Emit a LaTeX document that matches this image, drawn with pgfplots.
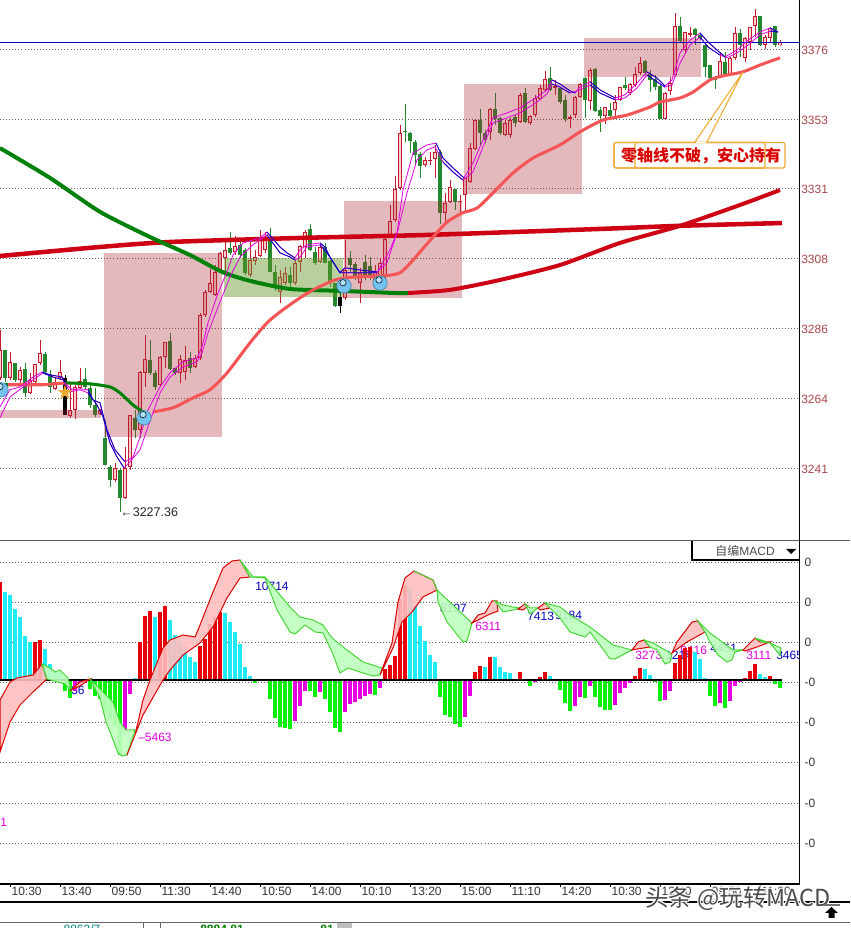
\documentclass[border=0pt]{standalone}
\usepackage{fontspec}
\setmainfont{Liberation Sans}
\newfontfamily\cjk{Noto Sans CJK SC}
\usepackage{pgfplots}
\usepackage{pgfplotstable}
\pgfplotsset{compat=1.18}

\definecolor{cred}{RGB}{200,25,45}
\definecolor{cgreen}{RGB}{35,135,45}
\definecolor{maSalmon}{RGB}{245,85,85}
\definecolor{maRed}{RGB}{205,0,20}
\definecolor{maGreen}{RGB}{0,130,10}
\definecolor{maBlue}{RGB}{0,0,190}
\definecolor{maMag}{RGB}{225,0,225}
\definecolor{hRed}{RGB}{230,0,10}
\definecolor{hCyan}{RGB}{30,235,245}
\definecolor{hGreen}{RGB}{10,240,10}
\definecolor{hMag}{RGB}{230,0,225}
\definecolor{pricetxt}{RGB}{170,70,75}
\definecolor{orangeb}{RGB}{240,170,50}
\definecolor{bubble}{RGB}{115,195,240}
\definecolor{bubblehi}{RGB}{175,228,252}
\definecolor{bubbleedge}{RGB}{70,130,170}
\definecolor{ribbonup}{RGB}{255,190,190}
\definecolor{ribbondn}{RGB}{190,255,190}
\definecolor{edgedn}{RGB}{70,215,55}

% candles: n low bot top high
\pgfplotstableread{
n low bot top high
0 3269.8 3270.4 3279.4 3285.8
2 3269.8 3270.4 3275.6 3278.8
4 3267.5 3269.8 3273.0 3273.9
6 3265.3 3265.6 3269.8 3272.0
7 3268.8 3269.1 3274.9 3274.9
8 3274.6 3275.2 3278.4 3282.6
11 3266.6 3266.9 3269.1 3270.7
12 3269.8 3270.4 3272.3 3276.2
14 3257.6 3258.2 3260.1 3269.1
15 3257.2 3260.1 3267.5 3268.2
16 3266.9 3267.2 3269.4 3273.6
20 3258.5 3258.8 3260.1 3260.5
23 3237.0 3237.6 3241.5 3243.1
25 3231.5 3231.8 3241.5 3248.2
26 3240.8 3241.8 3258.5 3258.5
28 3251.1 3253.7 3272.3 3272.7
29 3267.5 3272.0 3276.5 3284.2
32 3267.5 3268.2 3277.2 3277.5
33 3273.6 3277.2 3282.0 3282.0
36 3268.8 3272.0 3276.5 3277.8
37 3269.8 3272.3 3276.2 3280.7
39 3273.6 3273.9 3276.8 3277.8
40 3276.2 3276.8 3290.7 3291.3
41 3290.0 3290.7 3298.1 3298.7
42 3297.7 3298.1 3300.9 3305.4
43 3296.8 3297.1 3304.5 3306.7
44 3304.5 3305.1 3310.6 3310.9
45 3304.5 3309.0 3311.6 3314.8
47 3309.9 3310.9 3312.8 3316.0
50 3302.9 3303.5 3308.3 3314.1
51 3306.7 3308.0 3309.3 3311.6
52 3309.3 3309.6 3315.4 3318.0
53 3310.6 3311.6 3314.8 3317.3
56 3294.5 3298.1 3302.9 3305.1
57 3300.3 3300.9 3304.2 3306.1
59 3300.3 3300.9 3307.4 3308.3
60 3304.5 3307.7 3312.8 3313.2
61 3309.0 3312.5 3317.3 3318.0
64 3307.4 3307.7 3312.5 3313.8
69 3295.5 3296.1 3305.1 3314.8
72 3294.5 3300.9 3304.2 3305.8
75 3301.3 3301.9 3304.5 3306.7
76 3301.3 3301.9 3307.4 3309.0
77 3301.9 3302.9 3315.1 3315.4
78 3315.4 3316.4 3320.9 3326.0
79 3320.5 3321.2 3331.2 3335.3
80 3330.8 3331.5 3349.2 3351.7
85 3338.2 3338.9 3340.5 3341.4
86 3338.9 3340.2 3340.5 3343.0
87 3334.7 3340.8 3343.0 3345.3
89 3320.2 3323.4 3326.7 3329.9
90 3326.7 3327.0 3331.8 3334.0
92 3323.8 3327.0 3327.3 3329.2
93 3323.8 3329.2 3334.7 3334.7
94 3333.1 3333.4 3344.3 3345.9
95 3343.7 3344.0 3353.3 3353.6
98 3346.9 3349.5 3356.9 3357.2
101 3348.2 3348.5 3352.4 3353.3
102 3347.5 3348.5 3353.3 3354.0
104 3352.4 3352.7 3361.4 3362.0
106 3351.7 3352.4 3354.6 3354.9
107 3354.3 3354.9 3360.4 3361.4
108 3359.8 3360.1 3363.6 3364.6
109 3362.3 3363.0 3366.5 3369.1
111 3361.4 3363.6 3364.3 3366.2
114 3350.8 3353.7 3354.3 3354.9
115 3354.0 3354.9 3360.7 3361.0
116 3360.4 3360.7 3364.9 3365.2
118 3356.5 3359.4 3369.4 3370.0
121 3352.0 3354.6 3357.5 3357.5
123 3354.3 3356.5 3359.1 3361.4
124 3359.4 3359.8 3363.9 3363.9
126 3361.4 3362.0 3364.9 3365.2
127 3363.9 3364.6 3368.1 3370.4
128 3367.8 3368.4 3371.6 3373.6
133 3353.6 3353.6 3362.0 3362.3
134 3361.4 3362.6 3365.2 3367.2
135 3367.2 3367.8 3383.5 3387.7
137 3374.9 3375.8 3381.6 3381.6
138 3380.0 3380.7 3381.3 3383.2
144 3367.2 3367.5 3372.3 3375.2
146 3367.8 3368.1 3373.3 3373.6
147 3372.6 3373.3 3381.3 3383.2
149 3372.0 3373.3 3379.7 3380.0
150 3375.8 3378.4 3383.2 3383.2
151 3380.0 3383.5 3386.8 3389.0
153 3376.2 3377.4 3380.0 3380.7
154 3378.1 3379.7 3382.9 3383.2
156 3377.1 3377.4 3378.4 3379.0
}\redcandles

\pgfplotstableread{
n low bot top high
1 3269.1 3270.4 3279.4 3279.4
3 3269.1 3269.8 3275.2 3275.2
5 3264.3 3265.6 3273.3 3275.2
9 3271.4 3272.3 3278.1 3278.8
10 3265.6 3267.5 3271.7 3273.0
17 3266.6 3267.5 3270.1 3273.6
18 3260.8 3261.7 3267.2 3268.8
19 3257.9 3258.5 3261.7 3267.2
21 3242.4 3242.4 3251.1 3256.9
22 3235.4 3237.6 3241.8 3242.4
24 3227.4 3231.8 3240.8 3241.5
27 3251.1 3253.7 3257.6 3260.1
30 3271.4 3272.0 3276.2 3282.6
31 3266.6 3267.5 3272.0 3273.0
34 3273.0 3273.3 3282.3 3284.9
35 3271.4 3272.0 3273.6 3273.6
38 3272.0 3273.6 3276.8 3278.8
46 3309.9 3310.6 3312.2 3317.3
48 3309.0 3309.9 3313.2 3314.8
49 3303.5 3304.2 3311.6 3312.2
54 3304.5 3304.5 3314.8 3318.6
55 3298.4 3299.3 3304.5 3306.7
58 3299.7 3300.9 3303.5 3306.1
62 3311.2 3311.6 3318.3 3319.9
63 3306.7 3307.4 3310.9 3312.5
65 3307.4 3307.4 3312.5 3313.8
66 3299.7 3300.9 3308.0 3308.3
67 3293.2 3293.6 3300.9 3300.9
70 3304.5 3306.7 3309.0 3311.2
71 3301.9 3302.9 3307.0 3307.7
73 3301.9 3302.9 3307.7 3309.9
74 3301.9 3302.9 3306.4 3309.3
81 3346.3 3349.5 3349.8 3358.5
82 3342.7 3346.6 3349.2 3349.5
83 3338.9 3342.1 3346.3 3346.9
84 3334.7 3338.5 3342.4 3343.0
88 3319.9 3323.4 3343.0 3343.7
91 3324.4 3327.0 3331.2 3331.2
96 3345.3 3349.2 3353.3 3356.9
97 3345.9 3346.9 3349.2 3350.1
99 3351.7 3353.6 3356.9 3362.0
100 3348.5 3349.2 3354.0 3354.3
103 3351.1 3352.4 3354.3 3354.9
105 3352.4 3352.7 3362.0 3363.6
110 3362.7 3363.0 3366.8 3370.4
112 3358.5 3359.1 3363.6 3363.9
113 3352.7 3353.6 3359.8 3361.4
117 3354.0 3359.8 3366.8 3367.2
119 3355.9 3356.2 3369.7 3370.0
120 3349.5 3354.6 3356.5 3357.5
122 3354.0 3354.6 3356.5 3358.8
125 3363.0 3363.6 3364.6 3367.2
129 3367.8 3368.4 3372.3 3372.6
130 3362.3 3366.2 3368.1 3369.4
131 3363.0 3363.9 3366.5 3367.8
132 3353.6 3353.6 3364.3 3364.6
136 3378.4 3378.7 3383.5 3386.4
139 3377.4 3380.7 3382.6 3382.9
140 3379.0 3379.7 3380.7 3381.3
141 3367.2 3370.4 3377.4 3377.4
142 3366.2 3366.8 3371.0 3371.0
143 3363.3 3366.5 3366.8 3367.5
145 3367.5 3367.8 3372.0 3375.2
148 3373.6 3377.4 3381.3 3382.6
152 3377.1 3377.4 3386.8 3386.8
155 3376.8 3377.4 3383.5 3383.5
}\greencandles

\pgfplotstableread{
n low bot top high
13 3258.5 3258.5 3270.4 3271.4
68 3291.3 3293.6 3296.4 3300.9
}\blackcandles

% the two thin averages
\pgfplotstableread{
n p
0 3261.1
2 3266.6
4 3267.5
6.6 3270.7
8.4 3272.3
10 3271.4
12.4 3270.7
13 3268.8
14.4 3266.6
16 3266.9
17.6 3266.6
18.6 3263.3
20 3262.4
21.4 3253.7
23 3247.3
25 3243.4
26.6 3245.0
28 3251.4
29.6 3260.1
32 3267.5
34 3272.0
36.6 3275.6
39.4 3276.8
40.4 3280.4
41.6 3288.1
43.6 3297.7
45.4 3304.5
46.6 3309.9
48.6 3313.8
52 3315.4
53.4 3317.3
56 3312.5
57.4 3310.6
59 3309.0
60 3311.6
61.4 3313.2
64 3313.8
65 3312.5
66 3309.3
68 3304.2
69 3305.8
72 3305.1
75.4 3304.5
77.4 3307.4
79.4 3317.0
80.6 3330.8
82.6 3342.7
85.4 3345.3
87.2 3345.9
88.6 3341.1
90.6 3337.9
92.8 3334.7
94.6 3339.5
96.6 3346.9
98.6 3354.0
101.4 3355.6
104 3357.2
107.4 3360.7
109.4 3363.0
110.4 3366.2
112 3364.9
114 3362.7
115 3362.0
116 3363.9
118 3365.6
120 3363.0
123 3360.4
125 3361.4
127.4 3365.2
129.4 3368.8
131.4 3366.8
133 3364.3
134.4 3366.2
136 3374.9
138 3379.0
140 3381.3
141.6 3378.4
143.4 3375.8
145 3373.6
147.4 3375.8
149.6 3379.0
152 3381.6
154 3382.9
155.6 3381.6
}\mafast

\pgfplotstableread{
n p
0 3257.6
2 3264.3
4.4 3267.2
6.6 3269.8
8.6 3272.0
10.6 3270.7
12.6 3269.8
14 3265.9
16 3266.6
17.6 3265.6
19.4 3261.7
20.6 3257.9
22 3249.5
23.4 3245.0
24.8 3241.5
26 3243.4
28 3247.3
29.6 3254.7
32 3265.6
34 3270.7
36.6 3273.9
39.4 3275.6
40.4 3278.4
41.6 3284.9
44 3294.8
46 3302.9
48 3309.3
50.6 3313.2
53.4 3316.4
56 3310.6
58 3309.3
59 3308.3
60 3309.3
61.4 3312.5
64 3313.2
65.4 3310.6
68 3304.2
75.4 3304.2
78 3311.6
79.6 3318.0
81.4 3329.9
83.4 3340.5
85.4 3343.7
87 3344.7
88.6 3339.8
90.6 3336.6
92.6 3334.0
94.6 3336.6
96.6 3344.7
98.6 3352.4
101.4 3354.0
104 3355.6
107.4 3359.1
109.4 3361.7
110.4 3364.9
112 3363.9
114 3362.0
116 3363.0
118 3364.6
120 3362.0
123 3359.8
125 3360.4
127.4 3363.6
129.4 3367.8
131.4 3365.6
133 3363.9
134.4 3364.6
136 3371.6
138 3377.4
140 3380.0
141.6 3376.8
144 3374.2
145.4 3373.3
147.4 3374.9
149.6 3377.4
152 3380.7
154 3381.9
155.6 3381.6
}\maslow

\pgfplotstableread{
n p
30.6 3259.5
34.6 3260.8
38.6 3264.0
42 3266.6
45.4 3272.0
50 3281.7
53.4 3288.1
56 3291.6
59.4 3295.5
62.6 3298.7
67 3301.9
71 3302.9
76.6 3303.2
80 3304.2
82.6 3308.3
86.6 3315.7
89.4 3320.5
92.4 3323.4
95.4 3325.0
98.6 3329.9
102.6 3336.3
106.6 3341.1
112 3345.3
116 3349.5
120.6 3353.3
125.4 3354.9
130 3357.5
132 3359.1
136 3360.4
138.6 3362.3
142 3366.2
144.6 3367.5
148.6 3368.8
152 3371.0
156 3373.3
}\masalmon

\newcommand{\wicks}[2]{%
  \addplot[draw=none,mark=none,forget plot,error bars/.cd,y dir=both,y explicit,
    error mark=none,error bar style={#2,line width=0.75pt}]
  table[x=n,y expr=(\thisrow{bot}+\thisrow{top})/2,
    y error plus expr=\thisrow{high}-(\thisrow{bot}+\thisrow{top})/2,
    y error minus expr=(\thisrow{bot}+\thisrow{top})/2-\thisrow{low}] {#1};}
\newcommand{\bodies}[3]{%
  \addplot[draw=none,mark=none,forget plot,error bars/.cd,y dir=both,y explicit,
    error mark=none,error bar style={#2,line width=#3}]
  table[x=n,y expr=(\thisrow{bot}+\thisrow{top})/2,
    y error plus expr={max((\thisrow{top}-\thisrow{bot})/2,0.2)},
    y error minus expr={max((\thisrow{top}-\thisrow{bot})/2,0.2)}] {#1};}
\newcommand{\hollow}[1]{%
  \addplot[draw=none,mark=none,forget plot,error bars/.cd,y dir=both,y explicit,
    error mark=none,error bar style={white,opacity=0.8,line width=1.5pt}]
  table[x=n,y expr=(\thisrow{bot}+\thisrow{top})/2,
    y error plus expr={max((\thisrow{top}-\thisrow{bot})/2-0.35,0)},
    y error minus expr={max((\thisrow{top}-\thisrow{bot})/2-0.35,0)}] {#1};}

\pgfplotsset{
  chart/.style={scale only axis,width=599.25pt,xmin=0,xmax=159.8,
    axis line style={draw=none},ymajorgrids,yticklabel pos=right,
    grid style={gray!75!black,line width=0.5pt,dash pattern=on 0.6pt off 1.7pt},
    ytick style={draw=none},scaled y ticks=false,
    every axis plot/.append style={forget plot}},
  pbox/.style={draw=none,fill={rgb,255:red,170;green,40;blue,50},fill opacity=0.32},
  gbox/.style={draw=none,fill={rgb,255:red,100;green,150;blue,40},fill opacity=0.45},
  up/.style={draw=red!85!black,line width=0.75pt,fill=ribbonup,fill opacity=0.9},
  dn/.style={draw=edgedn,line width=0.75pt,fill=ribbondn,fill opacity=0.9},
  bar/.style={ycomb,mark=none,line width=2.6pt,#1},
}
\newcommand{\lab}{\fontsize{9}{10}\selectfont}

\begin{document}
\begin{tikzpicture}
\path[use as bounding box,fill=white] (0pt,0pt) rectangle (637.5pt,696pt);

% price panel
\begin{axis}[chart,at={(0pt,291pt)},anchor=south west,height=405pt,
    ymin=3218.3,ymax=3391.9,xtick=\empty,
    ytick={3376,3353.6,3331.2,3308.7,3286.2,3263.7,3241.2},
    yticklabels={3376,3353,3331,3308,3286,3264,3241},
    y tick label style={font=\lab,text=pricetxt,anchor=west,inner sep=1.5pt,yshift=-0.6pt}]

  \wicks{\greencandles}{cgreen}
  \wicks{\redcandles}{cred}
  \wicks{\blackcandles}{black}
  \bodies{\greencandles}{cgreen}{3pt}
  \bodies{\redcandles}{cred}{3pt}
  \hollow{\redcandles}
  \bodies{\blackcandles}{black}{3.4pt}

  % shaded boxes lie over the candles
  \addplot[pbox] coordinates {(0,3257.6)(20.2,3257.6)(20.2,3260.1)(0,3260.1)} -- cycle;
  \addplot[pbox] coordinates {(20.8,3251.4)(44.4,3251.4)(44.4,3310.6)(20.8,3310.6)} -- cycle;
  \addplot[gbox] coordinates {(44.8,3296.4)(68.6,3296.4)(68.6,3309.0)(44.8,3309.0)} -- cycle;
  \addplot[pbox] coordinates {(68.8,3296.1)(92.4,3296.1)(92.4,3327.3)(68.8,3327.3)} -- cycle;
  \addplot[pbox] coordinates {(92.8,3329.5)(116.4,3329.5)(116.4,3364.9)(92.8,3364.9)} -- cycle;
  \addplot[pbox] coordinates {(116.8,3367.2)(140.2,3367.2)(140.2,3379.7)(116.8,3379.7)} -- cycle;

  \addplot[maBlue,line width=0.75pt] coordinates {(0,3378.1)(159.8,3378.1)};

  % slow averages
  \addplot[maRed,line width=3.4pt,smooth,tension=0.4] coordinates {(0,3309.6)(20,3312.5)(34,3314.1)(60,3315.4)(86,3316.4)(120,3318.3)(136,3319.3)(156.4,3320.2)};
  \addplot[maRed,line width=3pt,smooth,tension=0.4] coordinates {(81.6,3297.7)(90,3298.7)(100,3301.9)(112,3306.7)(124,3313.8)(136,3319.3)(148,3326.0)(156,3330.8)};
  \addplot[maGreen,line width=3pt,smooth,tension=0.4] coordinates {(0,3344.3)(10,3334.7)(20,3323.8)(30,3315.7)(38,3309.9)(44.4,3304.5)(50,3301.6)(58,3299.0)(68,3298.4)(79,3297.7)(81.6,3297.7)};

  \addplot[maSalmon,line width=2.3pt] coordinates {(1.6,3268.2)(8.6,3268.2)(13,3268.8)};
  \addplot[maGreen,line width=2.3pt] coordinates {(0,3268.2)(1.6,3268.2)};
  \addplot[maGreen,line width=2.3pt,smooth,tension=0.4] coordinates {(13,3268.8)(18,3268.5)(22,3267.5)(24,3265.6)(26.6,3261.7)(28.6,3259.5)};
  \addplot[maSalmon,line width=2.3pt,smooth,tension=0.4] table[x=n,y=p] {\masalmon};

  % thin averages, blue where they fall
  \addplot[maMag,line width=0.6pt] table[x=n,y=p] {\mafast};
  \addplot[maMag,line width=0.6pt] table[x=n,y=p] {\maslow};
  \pgfplotsinvokeforeach{8.4:13,17.6:25,53.4:59,64:75.4,87.2:92.8,110.4:115,118:123,129.4:133,140:145,154:155.6}{
    \addplot[maBlue,line width=0.6pt,restrict x to domain=#1] table[x=n,y=p] {\mafast};
    \addplot[maBlue,line width=0.6pt,restrict x to domain=#1] table[x=n,y=p] {\maslow};
  }

  \addplot[only marks,mark=*,mark size=5.4pt,mark options={fill=bubble,draw=bubbleedge,line width=0.5pt}]
    coordinates {(0.2,3266.6)(28.8,3257.6)(68.8,3300.0)(76,3300.9)};
  \addplot[only marks,mark=*,mark size=2.4pt,mark options={fill=bubblehi,draw=none}]
    coordinates {(0,3267.6)(28.6,3258.6)(68.6,3301.0)(75.8,3301.9)};

  \node[anchor=center,text=orangeb,font=\fontspec{DejaVu Sans}\fontsize{15}{15}\selectfont] at (axis cs:13,3265.8) {★};
  \node[anchor=west,inner sep=0pt,font=\fontsize{9.4}{10}\selectfont,text=black!85] at (axis cs:24,3227.4) {←3227.36};
\end{axis}

% macd panel
\begin{axis}[chart,at={(0pt,33pt)},anchor=south west,height=257.25pt,
    ymin=-20400,ymax=13900,
    xtick={2,12,...,152},xtick pos=bottom,
    xticklabels={10:30,13:40,09:50,11:30,14:40,10:50,14:00,10:10,13:20,15:00,11:10,14:20,10:30,13:40,09:50,11:30},
    x tick label style={font=\lab,text=black!80,anchor=north west,xshift=-0.5pt,yshift=1.5pt,inner sep=1.5pt},
    xtick style={black,line width=0.5pt},tick align=outside,major tick length=2.5pt,
    ytick={11800,7800,3800,-200,-4200,-8200,-12300,-16300},
    yticklabels={0,0,0,-0,-0,-0,-0,-0},
    y tick label style={font=\lab,text=black!80,anchor=west,inner sep=1.5pt}]

  \node[anchor=west,inner sep=0pt,font=\lab,text=maBlue] at (axis cs:51,9400) {10714};
  \node[anchor=east,inner sep=0pt,font=\lab,text=maBlue] at (axis cs:93.4,7200) {8107};
  \node[anchor=west,inner sep=0pt,font=\lab,text=maBlue] at (axis cs:105.4,6400) {7413};
  \node[anchor=west,inner sep=0pt,font=\lab,text=maBlue] at (axis cs:111,6500) {9184};
  \node[anchor=west,inner sep=0pt,font=\lab,text=maBlue] at (axis cs:133,2500) {1214};
  \node[anchor=west,inner sep=0pt,font=\lab,text=maBlue] at (axis cs:142,3200) {4451};
  \node[anchor=west,inner sep=0pt,font=\lab,text=maBlue] at (axis cs:155.2,2500) {3465};
  \node[anchor=west,inner sep=0pt,font=\lab,text=maBlue] at (axis cs:14.2,-1000) {36};
  \node[anchor=west,inner sep=0pt,font=\lab,text=maMag] at (axis cs:95,5400) {6311};
  \node[anchor=west,inner sep=0pt,font=\lab,text=maMag] at (axis cs:127,2500) {3273};
  \node[anchor=west,inner sep=0pt,font=\lab,text=maMag] at (axis cs:136,3000) {9416};
  \node[anchor=west,inner sep=0pt,font=\lab,text=maMag] at (axis cs:149.2,2500) {3111};
  \node[anchor=west,inner sep=0pt,font=\lab,text=maMag] at (axis cs:27.6,-5700) {--5463};
  \node[anchor=west,inner sep=0pt,font=\lab,text=maMag] at (axis cs:0,-14200) {1};

  \addplot[bar=hCyan] coordinates {(1,8800)(2,8500)(3,7100)(4,6300)(5,4400)(6,3800)(9,3100)(10,1600)(11,900)(12,800)(27,200)(31,6300)(34,6000)(35,4500)(36,3900)(37,3400)(38,2300)(39,1800)(45,6700)(46,5800)(47,4800)(48,3600)(49,1300)(50,400)(82,9100)(83,7500)(84,5400)(85,3900)(86,2500)(87,1800)(97,1300)(99,2300)(100,1300)(101,800)(102,700)(103,100)(110,400)(129,1100)(130,500)(139,2800)(140,2100)(141,200)(152,600)(153,300)};
  \addplot[bar=hRed] coordinates {(0,9800)(7,3800)(8,4000)(28,3800)(29,6400)(30,6900)(32,6800)(33,7400)(40,3400)(41,4100)(42,5600)(43,6300)(44,6800)(77,1100)(78,1500)(79,2400)(80,8100)(81,9400)(95,800)(96,1400)(98,2300)(104,800)(108,300)(109,800)(127,400)(128,1200)(135,1700)(136,2500)(137,3200)(138,3300)(149,200)(150,900)(151,1600)(154,400)};
  \addplot[bar=hGreen] coordinates {(13,-1100)(14,-1800)(18,-900)(19,-1600)(20,-1900)(21,-3200)(22,-3900)(23,-4600)(24,-7500)(51,-300)(54,-1900)(55,-3800)(56,-4700)(57,-4800)(58,-4900)(62,-1100)(63,-1700)(65,-1900)(66,-3200)(67,-4800)(68,-5200)(75,-1500)(88,-1700)(89,-3500)(90,-3700)(91,-4400)(92,-4700)(105,-100)(106,-600)(112,-1000)(113,-2300)(114,-3100)(117,-1800)(119,-1700)(120,-2700)(121,-3000)(122,-3000)(131,-200)(132,-2100)(142,-1600)(143,-2600)(145,-2800)(155,-400)(156,-800)};
  \addplot[bar=hMag] coordinates {(15,-1100)(16,-600)(17,-300)(25,-5100)(26,-1400)(52,-100)(59,-4100)(60,-2600)(61,-1100)(64,-1200)(69,-3200)(70,-2400)(71,-2200)(72,-1900)(73,-1600)(74,-1400)(76,-800)(93,-3700)(94,-1600)(107,-200)(115,-2600)(116,-1700)(118,-600)(123,-2500)(124,-1300)(125,-800)(126,-300)(133,-2000)(134,-1100)(144,-2300)(146,-2100)(147,-600)(148,-200)};
  \addplot[black,line width=0.9pt] coordinates {(0,0)(156.4,0)};

  % ribbon between the two macd lines
  \addplot[up] coordinates {(0,-7200)(2,-4200)(4,-2500)(6.6,-1200)(9.4,100)(8.4,1600)(6.6,500)(3.4,200)(2,-200)(0,-2000)} -- cycle;
  \addplot[dn] coordinates {(8.4,1600)(10,1200)(11,800)(12,1000)(13.6,200)(14.2,-1000)(13,-400)(9.4,100)} -- cycle;
  \addplot[up] coordinates {(14.2,-1000)(16,-600)(18,100)(16,-200)} -- cycle;
  \addplot[dn] coordinates {(18,100)(20.6,-1200)(22.6,-2200)(24,-4200)(25.2,-5000)(27,-5000)(25.4,-7500)(24.4,-7600)(23.6,-7300)(22.4,-5700)(21.2,-4200)(20,-1800)} -- cycle;
  \addplot[up] coordinates {(25.4,-7500)(27,-5500)(28.6,-2000)(30,0)(32.6,3200)(34,4000)(36.6,4500)(39,4300)(40,5500)(42.6,8800)(44.6,11200)(46.4,11900)(48,12000)(50,10300)(48,10200)(45.4,8200)(42.6,5300)(40,3700)(36.6,2500)(34,1000)(32.6,0)(28.6,-3500)} -- cycle;
  \addplot[dn] coordinates {(48,12000)(50.6,10300)(53,10300)(58,7300)(60,6300)(62.6,6000)(64.6,5500)(66.4,4200)(69.4,3000)(72.6,1800)(76.4,1200)(76,500)(74.6,400)(72,800)(69.6,1200)(68,700)(66.4,2800)(64.6,4700)(63,4800)(61,5500)(59,4600)(58,4800)(55.4,7000)(53,10200)(50,10300)} -- cycle;
  \addplot[up] coordinates {(76.6,1300)(78.4,3700)(79.6,7800)(81,10200)(82.8,10900)(86.6,10000)(87.4,9000)(84.6,8300)(82.4,6800)(80.4,5800)(78.6,3200)(76,500)} -- cycle;
  \addplot[edgedn,line width=0.75pt] coordinates {(82.8,10900)(86.6,10000)(87.4,9000)};
  \addplot[dn] coordinates {(87.4,9000)(94.4,5700)(93.4,3900)(92.6,3800)(89.4,5800)(87.6,7800)} -- cycle;
  \addplot[up] coordinates {(94.4,5700)(95.6,6500)(97,6700)(98.4,7900)(99.4,7900)(99.6,6900)(98,6600)(95.6,6000)} -- cycle;
  \addplot[dn] coordinates {(99,7900)(100.6,7500)(102.6,7300)(104,7200)(103.6,7100)(100.6,6800)(99.6,7500)} -- cycle;
  \addplot[up] coordinates {(103.6,7100)(105,7600)(105.6,7400)(104.6,7000)} -- cycle;
  \addplot[dn] coordinates {(105,7600)(106,7200)(107.6,7200)(106,6600)} -- cycle;
  \addplot[up] coordinates {(107.6,7200)(109,7700)(110,7200)(108,7000)} -- cycle;
  \addplot[dn] coordinates {(109,7700)(112,7300)(114,6500)(118,5300)(122.6,3500)(126.4,3000)(123,2100)(122,2100)(120,3500)(118,4800)(117,4300)(114,4800)(112,6200)(110,7200)} -- cycle;
  \addplot[up] coordinates {(126.4,3000)(127.6,3800)(128.8,4000)(130,3300)(127.4,3100)} -- cycle;
  \addplot[dn] coordinates {(128.8,4000)(130.6,3700)(134.4,2600)(134,1800)(133,1600)(131.4,3000)(130,3300)} -- cycle;
  \addplot[up] coordinates {(134.4,2700)(135.4,3800)(138.4,5800)(139.6,5900)(141,4800)(137.4,3800)(134.6,2800)} -- cycle;
  \addplot[dn] coordinates {(139.6,5900)(142,4700)(146.6,3000)(148.6,3000)(147,2800)(146.4,2000)(145.4,1800)(143.6,2500)(142,3800)(141,4800)} -- cycle;
  \addplot[up] coordinates {(148.6,3000)(151,4200)(152,3800)(154,3800)(151.4,3300)(149,2900)} -- cycle;
  \addplot[dn] coordinates {(151,4200)(152.4,3800)(154,3700)(156.2,3200)(156,2500)(154,3700)} -- cycle;
\end{axis}

% window furniture and callout, in image pixels
\begin{scope}[shift={(0pt,696pt)},x=0.75pt,y=-0.75pt]
  \draw[black!65,line width=0.8pt] (0,540.5)--(850,540.5);
  \draw[black,line width=1pt] (799.5,0)--(799.5,884);
  \draw[black,line width=0.8pt] (0,884)--(800,884);
  \draw[black,line width=1.1pt] (0,902)--(850,902);
  \draw[black!60,line width=0.7pt] (0,922)--(850,922);
  \draw[black!60,line width=0.7pt] (143,922)--(143,930) (160,922)--(160,930);
  \fill[black!25] (337,923) rectangle (352,930);

  \fill[white] (692,541) rectangle (799,560);
  \draw[black,line width=0.8pt] (692,541)--(692,560)--(799,560);
  \node[text=black!70,font=\lab] at (745,550.5) {{\cjk 自编}MACD};
  \fill[black] (786,549)--(796,549)--(791,554)--cycle;

  % callout
  \draw[orangeb,line width=0.8pt] (695,142)--(743,72)--(707,142);
  \draw[orangeb,fill=white,line width=0.8pt,rounded corners=1.5pt] (614,142.5) rectangle (765,168);
  \draw[orangeb,fill=white,line width=0.9pt,rounded corners=1.5pt] (635,142.5) rectangle (785,168);
  \draw[orangeb,line width=0.8pt,rounded corners=1.5pt] (614,142.5) rectangle (765,168);
  \draw[white,line width=1pt] (696,142.5)--(706,142.5);
  \node[text=red!85!black,font=\cjk\bfseries\fontsize{12}{12}\selectfont,inner sep=0pt] at (701,155.5) {零轴线不破，安心持有};

  % status row, cut by the lower edge
  \node[text=teal,font=\lab] at (82,929.5) {8863/7};
  \node[text=green!50!black,font=\lab\bfseries] at (222,929.5) {8884.81};
  \node[text=green!50!black,font=\lab\bfseries] at (327,929.5) {81};

  % watermark
  \foreach \dx/\dy in {-1/-1,1/-1,-1/1,1/1}
    \node[text=white,font=\cjk\fontsize{17.6}{18}\selectfont,inner sep=0pt] at (738+\dx,899+\dy) {头条 @玩转MACD};
  \node[text=black!70,font=\cjk\fontsize{17.6}{18}\selectfont,inner sep=0pt] at (738,899) {头条 @玩转MACD};

  % scroll arrow
  \fill[black!55] (824,904) rectangle (840,906.5);
  \fill[black] (831.5,907)--(838,913)--(834.5,913)--(834.5,918)--(828.5,918)--(828.5,913)--(825,913)--cycle;
\end{scope}
\end{tikzpicture}
\end{document}
